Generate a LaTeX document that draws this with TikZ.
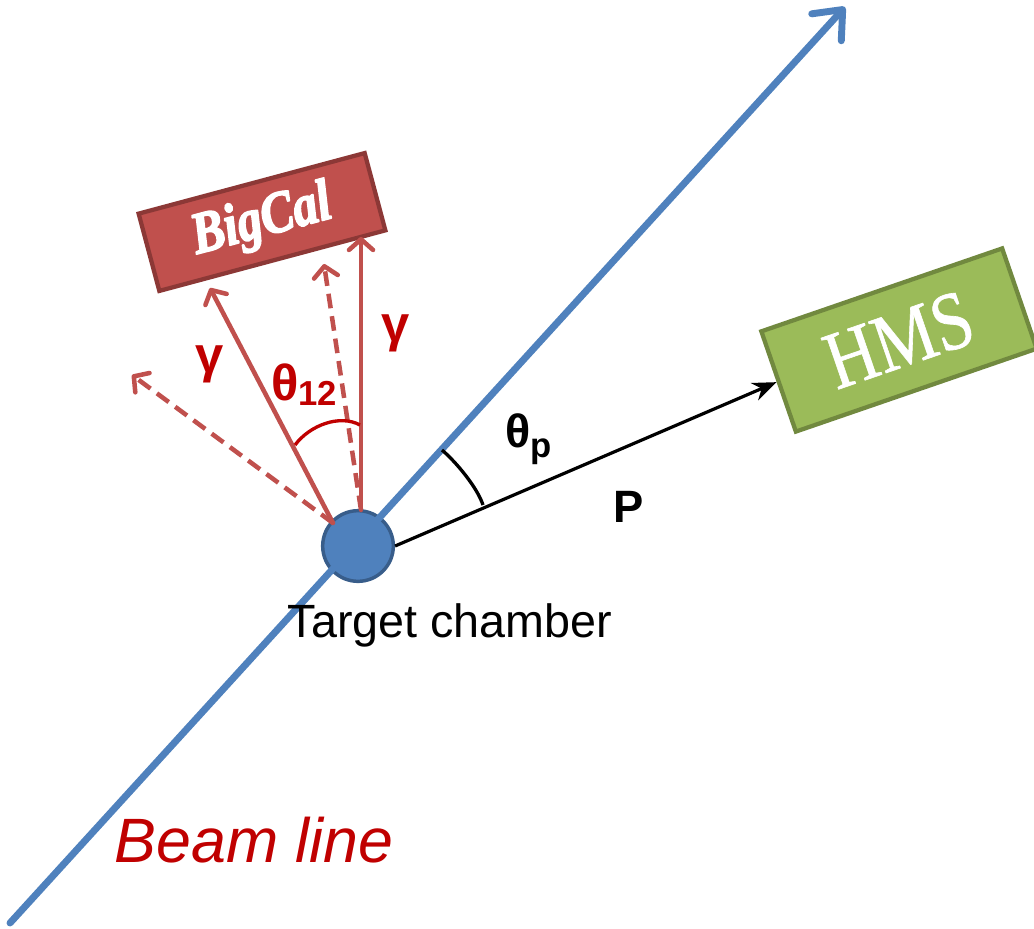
\documentclass[tikz,border=0pt]{standalone}
\usepackage{fontspec}
\setmainfont{Liberation Serif}
\setsansfont{Liberation Sans}
\usetikzlibrary{arrows.meta}
\definecolor{beam}{HTML}{4F81BD}
\definecolor{beamdark}{HTML}{385D8A}
\definecolor{gam}{HTML}{C0504D}
\definecolor{gamdark}{HTML}{8C3836}
\definecolor{txtred}{HTML}{C00000}
\definecolor{hmsfill}{HTML}{9BBB59}
\definecolor{hmsdark}{HTML}{71893F}
% heavier glyphs: fill and stroke the text outline
\newcommand{\heavytext}[2]{\special{pdf:literal direct 2 Tr #1 w 1 j}#2\special{pdf:literal direct 0 Tr}}
\begin{document}
\begin{tikzpicture}[x=0.75pt,y=-0.75pt,
  photon/.style={draw=gam, line width=3.4pt, line cap=round,
    -{Straight Barb[length=8pt,width=18pt,round]}},
  photondash/.style={photon, line cap=butt, dash pattern=on 11pt off 6pt},
  detector/.style={line width=3.2pt, inner sep=0pt},
  sflabel/.style={font=\sffamily\bfseries\fontsize{38}{44}\selectfont, anchor=base, inner sep=0pt},
  anglemark/.style={line width=2.5pt}]
\useasboundingbox (0,0) rectangle (1034,928);

% detectors
\node[detector, rotate=15, fill=gam, draw=gamdark,
  minimum width=175.5pt, minimum height=60pt,
  text=white, font=\bfseries\itshape\fontsize{44}{48}\selectfont] (bigcal) at (262,222)
  {\scalebox{0.84}[1]{\heavytext{1.3}{BigCal}}};
\node[detector, rotate=19, fill=hmsfill, draw=hmsdark,
  minimum width=191pt, minimum height=79.5pt,
  text=white, font=\fontsize{62}{66}\selectfont] (hms) at (899,340)
  {\scalebox{0.84}[1]{\heavytext{0.5}{HMS}}};

% target
\node[circle, fill=beam, draw=beamdark, line width=2.6pt, inner sep=0pt,
  minimum size=53pt] (tgt) at (358,546) {};

% beam line
\coordinate (beamS) at (10,923);
\coordinate (beamE) at (845,7);
\draw[beam, line width=5.2pt, line cap=round,
  -{Straight Barb[length=18pt,width=30pt,round]}] (beamS) -- (beamE);

% photons
\coordinate (gA) at (333,523);
\coordinate (gB) at (361,510);
\coordinate (t1) at (210,288);
\coordinate (t2) at (324,264);
\coordinate (t3) at (361,237);
\coordinate (t4) at (132,375);
\draw[photondash] (gA) -- (t4);
\draw[photondash] (gB) -- (t2);
\draw[photon] (gA) -- (t1);
\draw[photon] (gB) -- (t3);

% proton
\draw[line width=2.4pt, -{Stealth[length=18pt,width=14pt]}] (tgt.east) -- (hms.west);

% angles
\draw[anglemark, txtred] (295,445) .. controls (310,425) and (340,414) .. (360,425);
\draw[anglemark, black] (442,450) .. controls (456,462) and (477,487) .. (483,505);

% labels
\node[sflabel, text=txtred] (g1) at (210,372) {γ};
\node[sflabel, text=txtred] (g2) at (396,341) {γ};
\node[sflabel, text=txtred, anchor=base west] (th12) at (271,400)
  {θ\raisebox{-4pt}{\fontsize{26}{28}\selectfont 12}};
\node[sflabel, font=\sffamily\bfseries\fontsize{35}{40}\selectfont, anchor=base west] (thp) at (505,447)
  {θ\raisebox{-7.5pt}{\fontsize{26}{28}\selectfont p}};
\node[sflabel, font=\sffamily\bfseries\fontsize{34}{40}\selectfont] (plab) at (629,522) {P};
\node[anchor=base, inner sep=0pt, font=\sffamily\fontsize{35}{40}\selectfont] (tclab) at (450,637) {Target chamber};
\node[anchor=base, inner sep=0pt, text=txtred, font=\sffamily\itshape\fontsize{47}{52}\selectfont] (bllab) at (254,862) {Beam line};
\end{tikzpicture}
\end{document}
